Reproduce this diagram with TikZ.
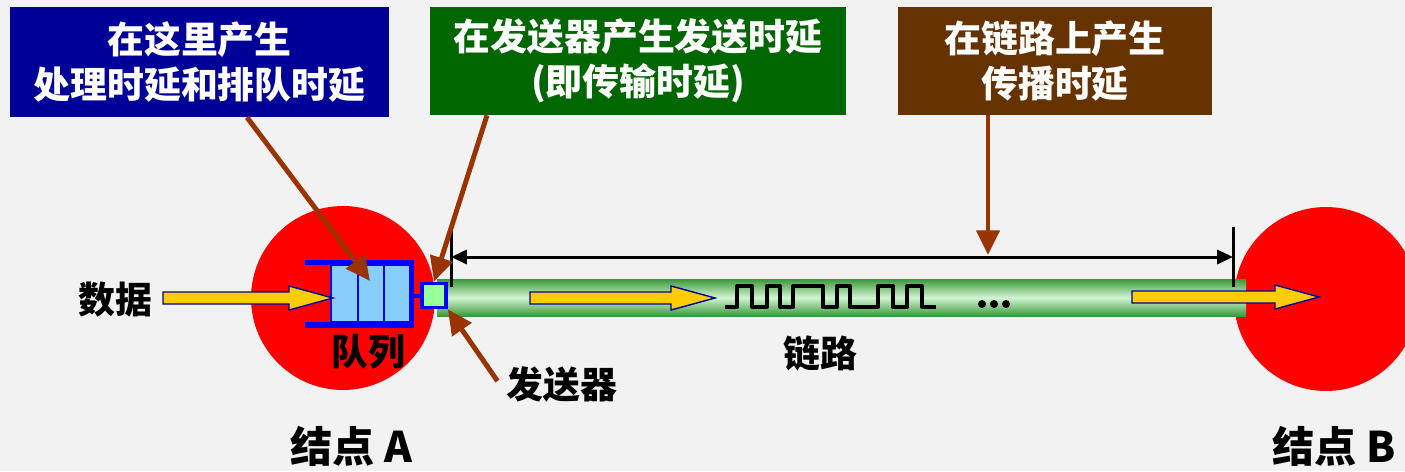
\documentclass[tikz,border=0pt]{standalone}
\usepackage{fontspec}
\setmainfont{Noto Sans CJK SC}
\usetikzlibrary{arrows.meta}

\definecolor{bggray}{HTML}{F2F2F2}
\definecolor{procblue}{HTML}{000099}
\definecolor{transgreen}{HTML}{006600}
\definecolor{propbrown}{HTML}{663300}
\definecolor{pointer}{HTML}{993300}
\definecolor{cellblue}{HTML}{87CEFA}
\definecolor{sendgreen}{HTML}{99FF99}
\definecolor{flowyellow}{HTML}{FFCC00}
\definecolor{linkdark}{HTML}{3A983A}
\definecolor{linklight}{HTML}{D2F5D2}

% yellow flow arrow: tail x, tip x, y
\newcommand*{\flowarrow}[3]{%
	\filldraw[flow] (#1,{#3-6}) -- ({#2-44},{#3-6}) -- ({#2-44},{#3-12}) -- (#2,#3)
		-- ({#2-44},{#3+12}) -- ({#2-44},{#3+6}) -- (#1,{#3+6}) -- cycle;}

\begin{document}
\begin{tikzpicture}
[
	x=0.02cm, y=-0.02cm,
	every node/.style={font=\fontsize{21}{25.5}\selectfont\bfseries},
	infobox/.style={rectangle,inner sep=0pt,text=white,align=center,minimum height=2.16cm},
	station/.style={circle,fill=red,inner sep=0pt,minimum size=3.68cm},
	cell/.style={fill=cellblue,draw=blue,line width=1.2pt},
	flow/.style={fill=flowyellow,draw=procblue,line width=0.8pt},
	pointerarrow/.style={pointer,line width=2.8pt,-{Triangle[length=14pt,width=13pt]}},
	span/.style={line width=1.7pt,{Triangle[length=9pt,width=8pt]}-{Triangle[length=9pt,width=8pt]}}
]

	% background
	\useasboundingbox (0,0) rectangle (1405,471);
	\clip (0,0) rectangle (1405,471);
	\fill[bggray] (0,0) rectangle (1405,471);

	% info boxes
	\node[infobox,fill=procblue,minimum width=7.58cm,minimum height=2.2cm] (proc) at (199.5,62)
		{在这里产生\\处理时延和排队时延};
	\node[infobox,fill=transgreen,minimum width=8.32cm] (trans) at (638,61)
		{在发送器产生发送时延\\(即传输时延)};
	\node[infobox,fill=propbrown,minimum width=6.28cm] (prop) at (1055,61)
		{在链路上产生\\传播时延};

	% stations
	\node[station] (nodeA) at (343,298) {};
	\node[station] (nodeB) at (1326,299) {};

	% link
	\shade[top color=linkdark,bottom color=linkdark,middle color=linklight]
		(437,279) rectangle (1246,316);
	\node (linklbl) at (820,353) {链路};

	% queue
	\draw[cell] (331,265) rectangle (358,322);
	\draw[cell] (358,265) rectangle (384,322);
	\draw[cell] (384,265) rectangle (410,322);
	\draw[blue,line width=3.4pt] (305,262.5) -- (411.5,262.5) -- (411.5,325) -- (305,325);
	\draw[blue,line width=2pt] (411.5,296) -- (422,296);
	\coordinate (queue) at (370,281);
	\node (queuelbl) at (368,352) {队列};

	% sender
	\node[rectangle,fill=sendgreen,draw=blue,line width=2.2pt,inner sep=0pt,minimum size=0.48cm]
		(sender) at (434,295.5) {};
	\node (senderlbl) at (562,385) {发送器};

	% signal on the link
	\draw[line width=2.3pt,line join=round] (725,307) -- (737,307) -- (737,286) -- (752,286)
		-- (752,307) -- (767,307) -- (767,286) -- (780,286) -- (780,307) -- (793,307)
		-- (793,286) -- (823,286) -- (823,307) -- (837,307) -- (837,286) -- (850,286)
		-- (850,307) -- (878,307) -- (878,286) -- (893,286) -- (893,307) -- (907,307)
		-- (907,286) -- (922,286) -- (922,307) -- (936,307);
	\foreach \dx in {982,994,1006}
		\fill (\dx,304) circle (4);

	% flow of data
	\flowarrow{163}{333}{298}
	\flowarrow{530}{715}{298}
	\flowarrow{1132}{1319}{297}
	\node (datalbl) at (115,300) {数据};

	% propagation span
	\coordinate (spanL) at (451,257);
	\coordinate (spanR) at (1233,257);
	\draw[line width=1.7pt] (451,227) -- (451,287);
	\draw[line width=1.7pt] (1233,227) -- (1233,287);
	\draw[span] (spanL) -- (spanR);
	\coordinate (spanmid) at (988,255);

	% pointers
	\draw[pointerarrow] (proc.south -| 247,0) -- (queue);
	\draw[pointerarrow] (trans.south -| 487,0) -- (sender.north);
	\draw[pointerarrow] (prop.south -| 988,0) -- (spanmid);
	\draw[pointerarrow] (senderlbl.west) ++(-3,-4) -- (sender.south east);

	% station labels
	\node[font=\fontsize{24}{28}\selectfont\bfseries] (lblA) at (351,446) {结点 A};
	\node[font=\fontsize{24}{28}\selectfont\bfseries] (lblB) at (1334,446) {结点 B};

\end{tikzpicture}
\end{document}
